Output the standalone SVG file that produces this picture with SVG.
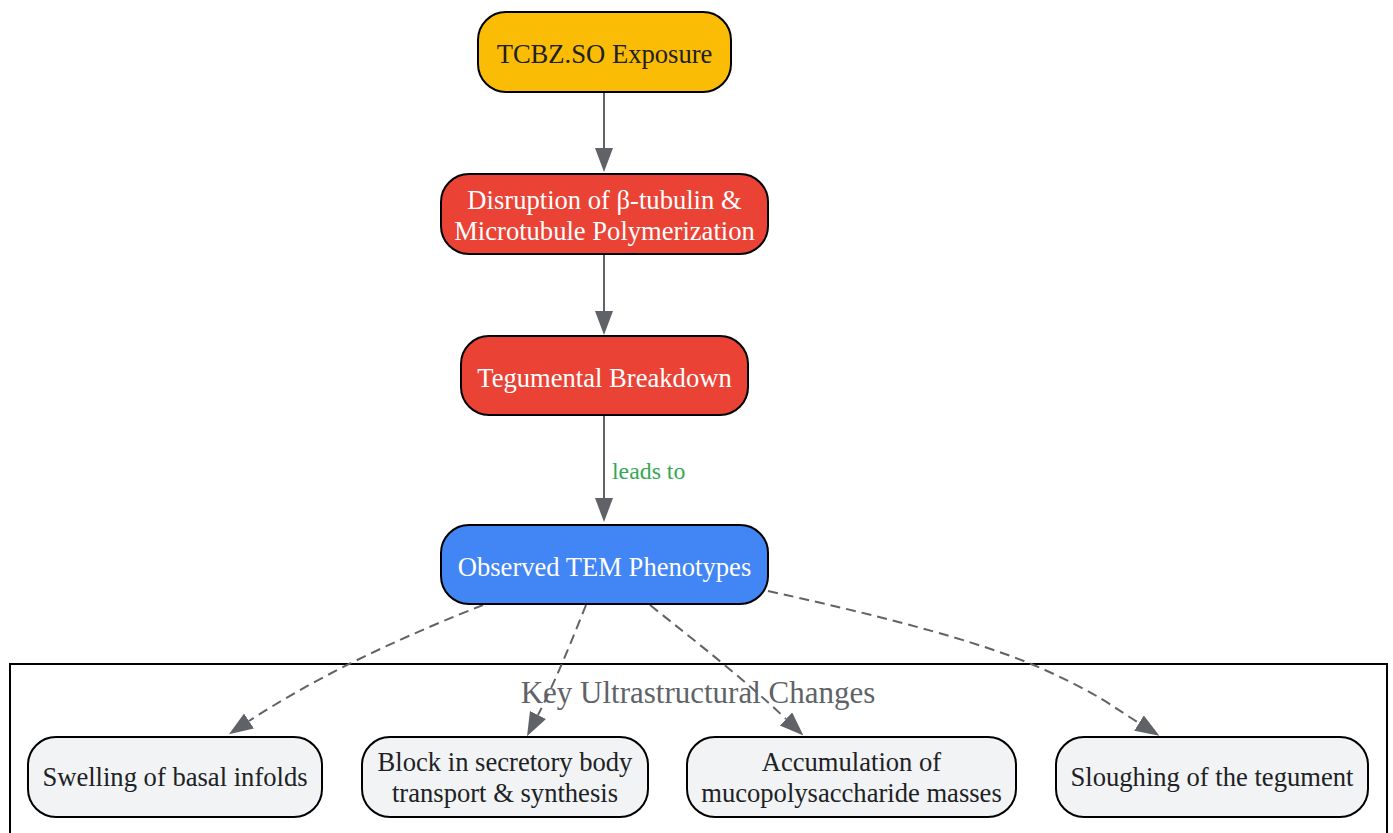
<svg xmlns="http://www.w3.org/2000/svg" width="1393" height="833" viewBox="0 0 1393 833">
<style>
.node rect{stroke:#000;stroke-width:2}
.t{font-family:"Liberation Serif","Times New Roman",serif;font-size:26.6px;text-anchor:middle}
.dark{fill:#202124}
.light{fill:#ffffff}
.edge{fill:none;stroke:#5f6368;stroke-width:2}
.dash{stroke-dasharray:10,6}
</style>
<defs>
<marker id="ah" markerUnits="userSpaceOnUse" markerWidth="26" markerHeight="20" refX="0" refY="9" orient="auto">
<path d="M0,0 L24,9 L0,18 z" fill="#5f6368"/>
</marker>
</defs>
<rect width="1393" height="833" fill="#ffffff"/>
<g id="cluster">
<rect x="10" y="664" width="1377" height="190" fill="none" stroke="#000" stroke-width="2"/>
<text x="698" y="703" font-family="Liberation Serif, serif" font-size="31" text-anchor="middle" fill="#5f6368">Key Ultrastructural Changes</text>
</g>
<g id="connectors">
<path class="edge" d="M604,92 L604,148" marker-end="url(#ah)"/>
<path class="edge" d="M604,254 L604,311" marker-end="url(#ah)"/>
<path class="edge" d="M604,415 L604,498" marker-end="url(#ah)"/>
<text x="612" y="479" font-family="Liberation Serif, serif" font-size="23.8" fill="#34a853">leads to</text>
<path class="edge dash" d="M483,605 C420,630 330,668 249,721" marker-end="url(#ah)"/>
<path class="edge dash" d="M586,605 C572,640 556,680 538,715" marker-end="url(#ah)"/>
<path class="edge dash" d="M650,605 C700,645 745,680 786,719" marker-end="url(#ah)"/>
<path class="edge dash" d="M768,591 C900,620 990,645 1045,670 S1110,705 1139,723" marker-end="url(#ah)"/>
</g>
<g id="n1" class="node">
<rect x="478" y="12" width="253" height="80" rx="28" fill="#fbbc05"/>
<text class="t dark" x="604.5" y="63">TCBZ.SO Exposure</text>
</g>
<g id="n2" class="node">
<rect x="441" y="174" width="327" height="80" rx="28" fill="#ea4335"/>
<text class="t light" x="604.5" y="209">Disruption of β-tubulin &amp;</text>
<text class="t light" x="604.5" y="240">Microtubule Polymerization</text>
</g>
<g id="n3" class="node">
<rect x="461" y="336" width="287" height="79" rx="28" fill="#ea4335"/>
<text class="t light" x="604.5" y="387">Tegumental Breakdown</text>
</g>
<g id="n4" class="node">
<rect x="441" y="525" width="327" height="79" rx="28" fill="#4285f4"/>
<text class="t light" x="604.5" y="576">Observed TEM Phenotypes</text>
</g>
<g id="n5" class="node">
<rect x="28" y="737" width="294" height="80" rx="28" fill="#f1f3f4"/>
<text class="t dark" x="175" y="786">Swelling of basal infolds</text>
</g>
<g id="n6" class="node">
<rect x="362" y="737" width="286" height="80" rx="28" fill="#f1f3f4"/>
<text class="t dark" x="505" y="771">Block in secretory body</text>
<text class="t dark" x="505" y="802">transport &amp; synthesis</text>
</g>
<g id="n7" class="node">
<rect x="687" y="737" width="329" height="80" rx="28" fill="#f1f3f4"/>
<text class="t dark" x="851.5" y="771">Accumulation of</text>
<text class="t dark" x="851.5" y="802">mucopolysaccharide masses</text>
</g>
<g id="n8" class="node">
<rect x="1056" y="737" width="312" height="80" rx="28" fill="#f1f3f4"/>
<text class="t dark" x="1212" y="786">Sloughing of the tegument</text>
</g>
</svg>
